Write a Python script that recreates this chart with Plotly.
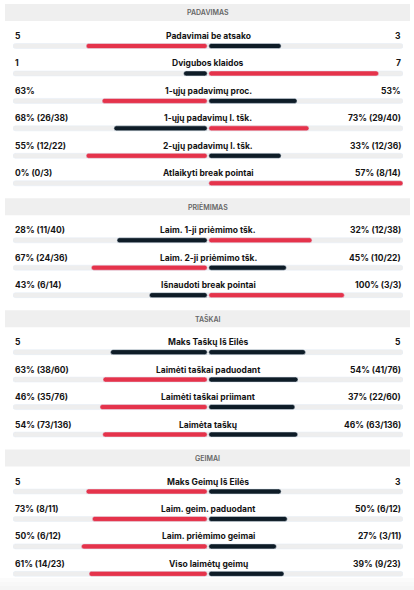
import plotly.graph_objects as go

# ---- data ----
sections = ["PADAVIMAS", "PRIĖMIMAS", "TAŠKAI", "GEIMAI"]
section_sizes = [6, 3, 4, 4]
stat_labels = [
    "Padavimai be atsako", "Dvigubos klaidos", "1-ųjų padavimų proc.",
    "1-ųjų padavimų l. tšk.", "2-ųjų padavimų l. tšk.", "Atlaikyti break pointai",
    "Laim. 1-ji priėmimo tšk.", "Laim. 2-ji priėmimo tšk.", "Išnaudoti break pointai",
    "Maks Taškų Iš Eilės", "Laimėti taškai paduodant", "Laimėti taškai priimant", "Laimėta taškų",
    "Maks Geimų Iš Eilės", "Laim. geim. paduodant", "Laim. priėmimo geimai", "Viso laimėtų geimų",
]
left_values = [5, 1, 63, 68, 55, 0, 28, 67, 43, 5, 63, 46, 54, 5, 73, 50, 61]
right_values = [3, 7, 53, 73, 33, 57, 32, 45, 100, 5, 54, 37, 46, 3, 50, 27, 39]
left_text = ["5", "1", "63%", "68% (26/38)", "55% (12/22)", "0% (0/3)",
             "28% (11/40)", "67% (24/36)", "43% (6/14)",
             "5", "63% (38/60)", "46% (35/76)", "54% (73/136)",
             "5", "73% (8/11)", "50% (6/12)", "61% (14/23)"]
right_text = ["3", "7", "53%", "73% (29/40)", "33% (12/36)", "57% (8/14)",
              "32% (12/38)", "45% (10/22)", "100% (3/3)",
              "5", "54% (41/76)", "37% (22/60)", "46% (63/136)",
              "3", "50% (6/12)", "27% (3/11)", "39% (9/23)"]

RED = "#e5334b"
DARK = "#0e1c27"
TRACK = "#eeeeee"
HEAD_BG = "#efefef"

W, H = 414, 590
# layout geometry (pixels)
ROW = 27.45
HEAD_H = 17
header_tops = []
bar_y = []
y = 4.0
for n in section_sizes:
    header_tops.append(y)
    first = y + 42
    for i in range(n):
        bar_y.append(first + i * ROW)
    y = bar_y[-1] + 15

gap = 0.004
lf, rf, lc, rc = [], [], [], []
for l, r in zip(left_values, right_values):
    s = l + r
    a = l / s if s else 0
    b = r / s if s else 0
    lf.append(a)
    rf.append(b)
    lc.append(RED if l > r else DARK)
    rc.append(RED if r > l else DARK)

fig = go.Figure()
n = len(stat_labels)
fig.add_trace(go.Bar(orientation="h", y=bar_y, x=[2] * n, base=[-1] * n,
                     marker=dict(color=TRACK), width=5, hoverinfo="skip"))
fig.add_trace(go.Bar(orientation="h", y=bar_y, x=[-(v - gap) if v > 0 else 0 for v in lf],
                     base=[-gap] * n, marker=dict(color=lc), width=5, hoverinfo="skip"))
fig.add_trace(go.Bar(orientation="h", y=bar_y, x=[(v - gap) if v > 0 else 0 for v in rf],
                     base=[gap] * n, marker=dict(color=rc), width=5, hoverinfo="skip"))

x0p, x1p = 13 / W, 403 / W
font_lbl = dict(family="Inter, Lato, sans-serif", size=8.5, color="#141414", weight=700)
ann = []
for i in range(n):
    ty = bar_y[i] - 10
    ann.append(dict(xref="paper", yref="y", x=x0p, y=ty, text=left_text[i], showarrow=False,
                    xanchor="left", yanchor="middle", font=font_lbl))
    ann.append(dict(xref="paper", yref="y", x=(x0p + x1p) / 2, y=ty, text=stat_labels[i], showarrow=False,
                    xanchor="center", yanchor="middle", font=font_lbl))
    ann.append(dict(xref="paper", yref="y", x=x1p, y=ty, text=right_text[i], showarrow=False,
                    xanchor="right", yanchor="middle", font=font_lbl))

shapes = []
for s, t in zip(sections, header_tops):
    shapes.append(dict(type="rect", xref="paper", yref="y", x0=5 / W, x1=410 / W, y0=t, y1=t + HEAD_H,
                       fillcolor=HEAD_BG, line=dict(width=0), layer="below"))
    ann.append(dict(xref="paper", yref="y", x=(5 / W + 410 / W) / 2, y=t + HEAD_H / 2, text=s,
                    showarrow=False, xanchor="center", yanchor="middle",
                    font=dict(family="Inter, Lato, sans-serif", size=7, color="#666666", weight=600)))
# faint bottom fade
for k, c in enumerate(["#fbfbfb", "#f8f8f8", "#f5f5f5"]):
    shapes.append(dict(type="rect", xref="paper", yref="paper", x0=0, x1=1,
                       y0=0, y1=(12 - 4 * k) / H, fillcolor=c, line=dict(width=0), layer="below"))

fig.update_layout(
    width=W, height=H, margin=dict(l=0, r=0, t=0, b=0),
    paper_bgcolor="white", plot_bgcolor="rgba(0,0,0,0)",
    barmode="overlay", barcornerradius=3, showlegend=False,
    xaxis=dict(domain=[x0p, x1p], range=[-1, 1], visible=False, fixedrange=True),
    yaxis=dict(range=[H, 0], visible=False, fixedrange=True),
    annotations=ann, shapes=shapes,
)
fig.write_html("out.html", config={"displayModeBar": False},
               post_script="document.body.style.margin='0';document.body.style.overflow='hidden';")
